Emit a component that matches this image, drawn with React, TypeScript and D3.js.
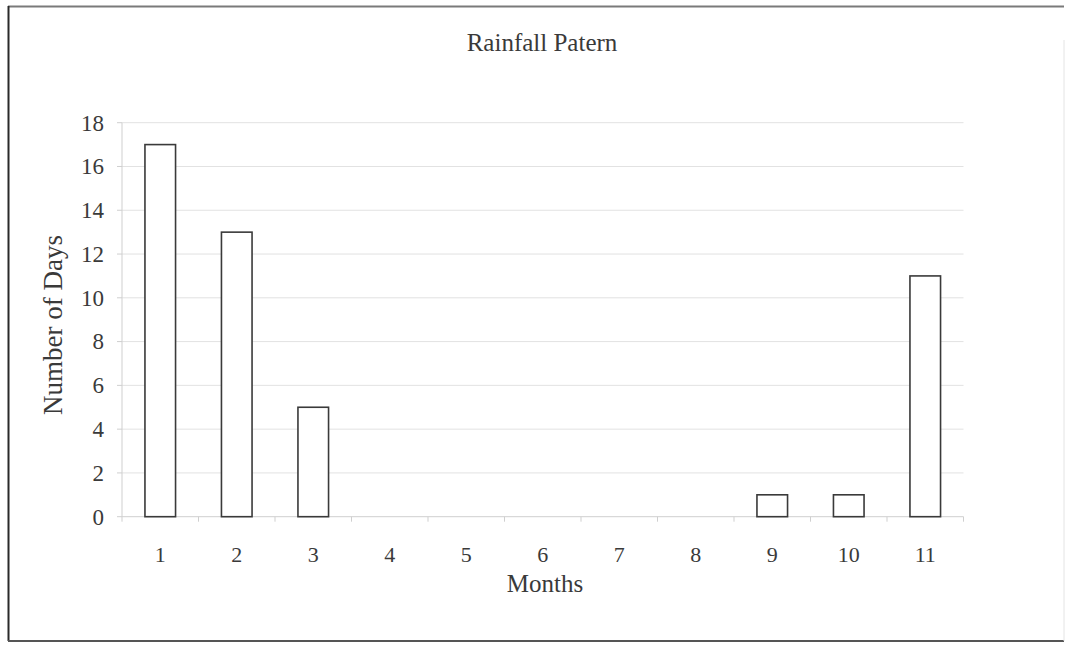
import React from "react";
import * as d3 from "d3";

const months: string[] = ["1", "2", "3", "4", "5", "6", "7", "8", "9", "10", "11"];
const rainyDays: number[] = [17, 13, 5, 0, 0, 0, 0, 0, 1, 1, 11];
const yTicks: number[] = [0, 2, 4, 6, 8, 10, 12, 14, 16, 18];

const W = 1067;
const H = 645;
const plot = { left: 122, right: 963.5, top: 122.7, bottom: 516.7 };
const FONT = "'Liberation Serif', 'DejaVu Serif', serif";
const TEXT = "#3a3a3a";

export default function App() {
  const x = d3.scaleBand<string>().domain(months).range([plot.left, plot.right]).padding(0);
  const y = d3.scaleLinear().domain([0, 18]).range([plot.bottom, plot.top]);
  const barW = x.bandwidth() * 0.4;
  const boundaries = d3.range(months.length + 1).map((i) => plot.left + i * x.step());

  return (
    <div style={{ position: "absolute", left: 0, top: 0 }}>
      <svg width={W} height={H} style={{ display: "block", background: "#fff" }}>
        {/* outer frame */}
        <line x1={8} y1={6.5} x2={1064} y2={6.5} stroke="#7a7a7a" strokeWidth={2} />
        <line x1={8.5} y1={6} x2={8.5} y2={641} stroke="#2a2a2a" strokeWidth={2} />
        <line x1={8} y1={641} x2={1064} y2={641} stroke="#555" strokeWidth={2} />
        <line x1={1064} y1={40} x2={1064} y2={641} stroke="#e4e4e4" strokeWidth={1} />

        <text x={542} y={51} textAnchor="middle" fontFamily={FONT} fontSize={25} fill={TEXT}>
          Rainfall Patern
        </text>

        {/* gridlines and y ticks */}
        {yTicks.map((t) => (
          <g key={t}>
            {t > 0 && (
              <line x1={plot.left} x2={plot.right} y1={y(t)} y2={y(t)} stroke="#e2e2e2" strokeWidth={1} />
            )}
            <line x1={plot.left - 5} x2={plot.left} y1={y(t)} y2={y(t)} stroke="#cfcfcf" strokeWidth={1} />
            <text x={104} y={y(t)} dy="0.34em" textAnchor="end" fontFamily={FONT} fontSize={23} fill={TEXT}>
              {t}
            </text>
          </g>
        ))}

        {/* axes */}
        <line x1={plot.left} x2={plot.left} y1={plot.top} y2={plot.bottom} stroke="#cfcfcf" strokeWidth={1} />
        <line x1={plot.left} x2={plot.right} y1={plot.bottom} y2={plot.bottom} stroke="#cfcfcf" strokeWidth={1} />
        {boundaries.map((b, i) => (
          <line key={i} x1={b} x2={b} y1={plot.bottom} y2={plot.bottom + 5} stroke="#cfcfcf" strokeWidth={1} />
        ))}

        {/* bars */}
        {months.map((m, i) => {
          const v = rainyDays[i];
          if (v <= 0) return null;
          const cx = (x(m) as number) + x.bandwidth() / 2;
          return (
            <rect
              key={m}
              x={cx - barW / 2}
              y={y(v)}
              width={barW}
              height={y(0) - y(v)}
              fill="#fff"
              stroke="#3a3a3a"
              strokeWidth={1.6}
            />
          );
        })}

        {/* x tick labels */}
        {months.map((m) => (
          <text
            key={m}
            x={(x(m) as number) + x.bandwidth() / 2}
            y={562}
            textAnchor="middle"
            fontFamily={FONT}
            fontSize={22}
            fill={TEXT}
          >
            {m}
          </text>
        ))}

        <text x={545} y={592} textAnchor="middle" fontFamily={FONT} fontSize={25} fill={TEXT}>
          Months
        </text>
        <text
          transform={`translate(62, 325) rotate(-90)`}
          textAnchor="middle"
          fontFamily={FONT}
          fontSize={27}
          fill={TEXT}
        >
          Number of Days
        </text>
      </svg>
    </div>
  );
}
